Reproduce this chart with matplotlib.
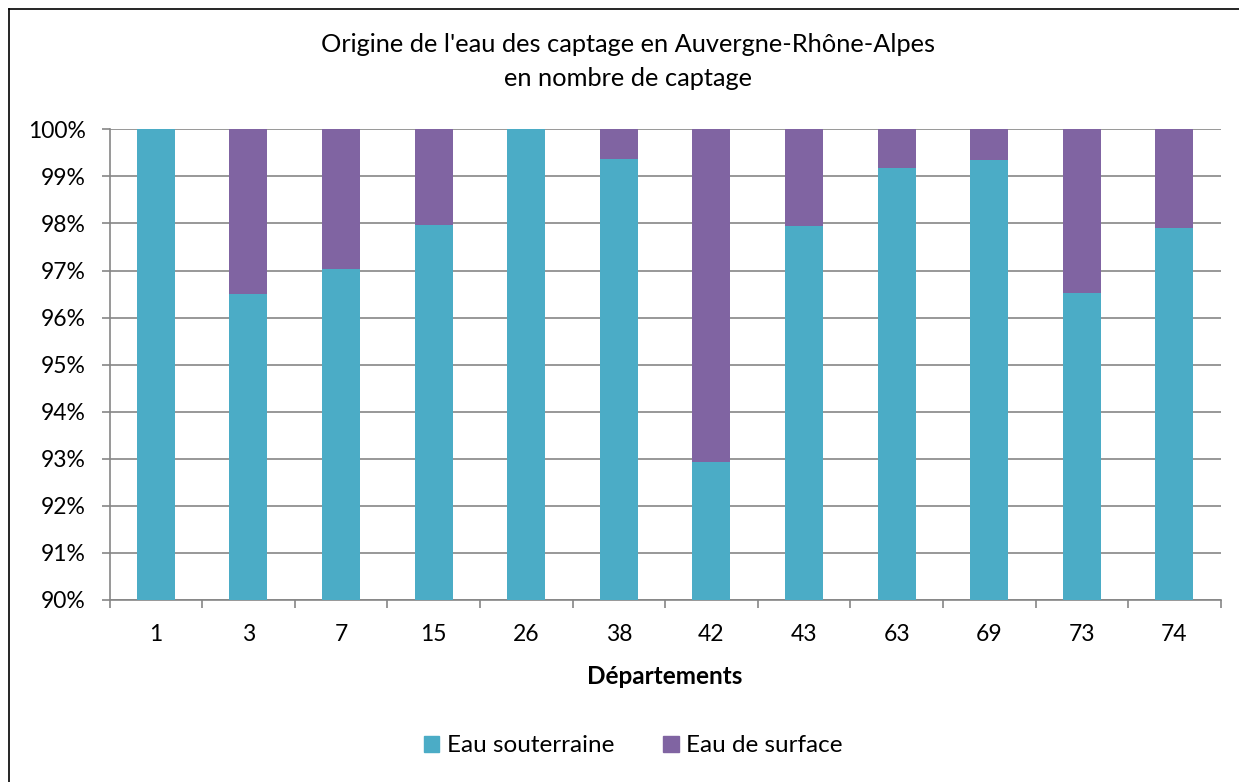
import numpy as np
import matplotlib
matplotlib.use('Agg')
import matplotlib.pyplot as plt
from matplotlib.ticker import FuncFormatter, MultipleLocator
from matplotlib.patches import Patch
from matplotlib.lines import Line2D

plt.rcParams['font.family'] = ['Lato', 'DejaVu Sans']

departements = ['1', '3', '7', '15', '26', '38', '42', '43', '63', '69', '73', '74']
eau_souterraine = [100.0, 96.50, 97.03, 97.97, 100.0, 99.36, 92.93, 97.94, 99.17, 99.35, 96.52, 97.91]
eau_surface = [100 - v for v in eau_souterraine]

teal = '#4BACC6'
purple = '#8064A2'
axis_grey = '#868686'

fig = plt.figure(figsize=(12.39, 7.82), dpi=100)
ax = fig.add_axes([109.5 / 1239, 1 - 600 / 782, (1220.7 - 109.5) / 1239, (600 - 129.3) / 782])

x = np.arange(len(departements))
ax.bar(x, eau_souterraine, width=0.41, color=teal, label='Eau souterraine', zorder=3)
ax.bar(x, eau_surface, width=0.41, bottom=eau_souterraine, color=purple,
       label='Eau de surface', zorder=3)

ax.set_ylim(90, 100)
ax.set_xlim(-0.5, len(departements) - 0.5)
ax.yaxis.set_major_locator(MultipleLocator(1))
ax.yaxis.set_major_formatter(FuncFormatter(lambda v, p: f'{v:.0f}%'))
ax.grid(axis='y', color=axis_grey, linewidth=1.2, zorder=0)

ax.set_xticks(x)
ax.set_xticklabels(departements)
ax.set_xticks(np.arange(-0.5, len(departements)), minor=True)
ax.tick_params(axis='x', which='major', length=0, pad=17, labelsize=16.5)
ax.tick_params(axis='x', which='minor', length=6, width=1.2, color=axis_grey)
ax.tick_params(axis='y', length=6, width=1.2, color=axis_grey, labelsize=16.5, pad=11)

for side in ['top', 'right']:
    ax.spines[side].set_visible(False)
for side in ['left', 'bottom']:
    ax.spines[side].set_color(axis_grey)
    ax.spines[side].set_linewidth(1.2)

ax.set_xlabel('Départements', fontsize=17.5, fontweight='bold', labelpad=15)

fig.text(628 / 1239, 1 - 45 / 782, "Origine de l'eau des captage en Auvergne-Rhône-Alpes",
         ha='center', va='center', fontsize=18.3)
fig.text(628 / 1239, 1 - 78 / 782, "en nombre de captage",
         ha='center', va='center', fontsize=18.3)

handles = [Patch(color=teal), Patch(color=purple)]
fig.legend(handles, ['Eau souterraine', 'Eau de surface'], loc='center',
           bbox_to_anchor=(633 / 1239, 1 - 746 / 782), ncol=2, frameon=False,
           fontsize=17.5, handlelength=0.65, handleheight=0.65, handletextpad=0.3,
           columnspacing=2.0)

# chart border (left and top visible)
fig.add_artist(Line2D([8.5 / 1239, 8.5 / 1239], [0, 1 - 8.5 / 782], color='black', linewidth=1.2))
fig.add_artist(Line2D([8.5 / 1239, 1], [1 - 8.5 / 782, 1 - 8.5 / 782], color='black', linewidth=1.2))

fig.savefig('out.png', dpi=100)
